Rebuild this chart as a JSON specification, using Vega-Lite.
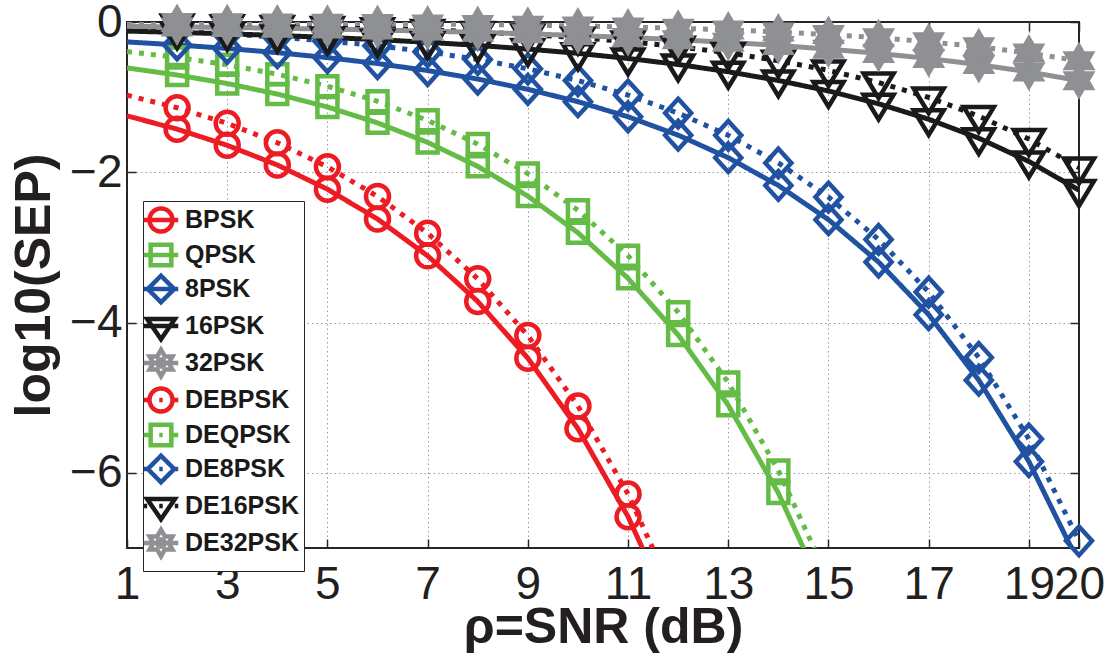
{
  "$schema": "https://vega.github.io/schema/vega-lite/v6.json",
  "autosize": "none",
  "width": 952,
  "height": 526,
  "padding": {"left": 127, "top": 22, "right": 37, "bottom": 106},
  "background": "white",
  "config": {
    "view": {"stroke": "#262626", "strokeWidth": 2},
    "font": "Liberation Sans",
    "legend": {"orient": "none", "legendX": 16, "legendY": 179, "title": null,
      "fillColor": "white", "strokeColor": "#262626", "padding": 5, "cornerRadius": 0,
      "labelFont": "Liberation Sans", "labelFontSize": 25, "labelFontWeight": "bold", "labelColor": "#1a1a1a", "labelLimit": 300,
      "symbolSize": 529, "symbolStrokeWidth": 4.5, "rowPadding": -16, "labelOffset": 10, "symbolOffset": -1, "symbolOpacity": 1, "symbolDash": [1, 0], "symbolFillColor": "transparent"}
  },
  "data": {"values": [
    {"series":"BPSK","mod":"BPSK","coding":"coherent","snr":1,"logsep":-1.249},{"series":"BPSK","mod":"BPSK","coding":"coherent","snr":2,"logsep":-1.426},{"series":"BPSK","mod":"BPSK","coding":"coherent","snr":3,"logsep":-1.641},{"series":"BPSK","mod":"BPSK","coding":"coherent","snr":4,"logsep":-1.903},{"series":"BPSK","mod":"BPSK","coding":"coherent","snr":5,"logsep":-2.225},{"series":"BPSK","mod":"BPSK","coding":"coherent","snr":6,"logsep":-2.622},{"series":"BPSK","mod":"BPSK","coding":"coherent","snr":7,"logsep":-3.112},{"series":"BPSK","mod":"BPSK","coding":"coherent","snr":8,"logsep":-3.719},{"series":"BPSK","mod":"BPSK","coding":"coherent","snr":9,"logsep":-4.474},{"series":"BPSK","mod":"BPSK","coding":"coherent","snr":10,"logsep":-5.412},{"series":"BPSK","mod":"BPSK","coding":"coherent","snr":11,"logsep":-6.583},{"series":"BPSK","mod":"BPSK","coding":"coherent","snr":12,"logsep":-8.046},
    {"series":"DEBPSK","mod":"BPSK","coding":"differential","snr":1,"logsep":-0.974},{"series":"DEBPSK","mod":"BPSK","coding":"differential","snr":2,"logsep":-1.141},{"series":"DEBPSK","mod":"BPSK","coding":"differential","snr":3,"logsep":-1.349},{"series":"DEBPSK","mod":"BPSK","coding":"differential","snr":4,"logsep":-1.607},{"series":"DEBPSK","mod":"BPSK","coding":"differential","snr":5,"logsep":-1.927},{"series":"DEBPSK","mod":"BPSK","coding":"differential","snr":6,"logsep":-2.321},{"series":"DEBPSK","mod":"BPSK","coding":"differential","snr":7,"logsep":-2.811},{"series":"DEBPSK","mod":"BPSK","coding":"differential","snr":8,"logsep":-3.418},{"series":"DEBPSK","mod":"BPSK","coding":"differential","snr":9,"logsep":-4.173},{"series":"DEBPSK","mod":"BPSK","coding":"differential","snr":10,"logsep":-5.111},{"series":"DEBPSK","mod":"BPSK","coding":"differential","snr":11,"logsep":-6.282},{"series":"DEBPSK","mod":"BPSK","coding":"differential","snr":12,"logsep":-7.745},
    {"series":"QPSK","mod":"QPSK","coding":"coherent","snr":1,"logsep":-0.611},{"series":"QPSK","mod":"QPSK","coding":"coherent","snr":2,"logsep":-0.705},{"series":"QPSK","mod":"QPSK","coding":"coherent","snr":3,"logsep":-0.819},{"series":"QPSK","mod":"QPSK","coding":"coherent","snr":4,"logsep":-0.959},{"series":"QPSK","mod":"QPSK","coding":"coherent","snr":5,"logsep":-1.131},{"series":"QPSK","mod":"QPSK","coding":"coherent","snr":6,"logsep":-1.342},{"series":"QPSK","mod":"QPSK","coding":"coherent","snr":7,"logsep":-1.602},{"series":"QPSK","mod":"QPSK","coding":"coherent","snr":8,"logsep":-1.921},{"series":"QPSK","mod":"QPSK","coding":"coherent","snr":9,"logsep":-2.317},{"series":"QPSK","mod":"QPSK","coding":"coherent","snr":10,"logsep":-2.805},{"series":"QPSK","mod":"QPSK","coding":"coherent","snr":11,"logsep":-3.411},{"series":"QPSK","mod":"QPSK","coding":"coherent","snr":12,"logsep":-4.164},{"series":"QPSK","mod":"QPSK","coding":"coherent","snr":13,"logsep":-5.1},{"series":"QPSK","mod":"QPSK","coding":"coherent","snr":14,"logsep":-6.269},{"series":"QPSK","mod":"QPSK","coding":"coherent","snr":15,"logsep":-7.73},
    {"series":"DEQPSK","mod":"QPSK","coding":"differential","snr":1,"logsep":-0.394},{"series":"DEQPSK","mod":"QPSK","coding":"differential","snr":2,"logsep":-0.471},{"series":"DEQPSK","mod":"QPSK","coding":"differential","snr":3,"logsep":-0.569},{"series":"DEQPSK","mod":"QPSK","coding":"differential","snr":4,"logsep":-0.695},{"series":"DEQPSK","mod":"QPSK","coding":"differential","snr":5,"logsep":-0.854},{"series":"DEQPSK","mod":"QPSK","coding":"differential","snr":6,"logsep":-1.056},{"series":"DEQPSK","mod":"QPSK","coding":"differential","snr":7,"logsep":-1.309},{"series":"DEQPSK","mod":"QPSK","coding":"differential","snr":8,"logsep":-1.625},{"series":"DEQPSK","mod":"QPSK","coding":"differential","snr":9,"logsep":-2.017},{"series":"DEQPSK","mod":"QPSK","coding":"differential","snr":10,"logsep":-2.505},{"series":"DEQPSK","mod":"QPSK","coding":"differential","snr":11,"logsep":-3.11},{"series":"DEQPSK","mod":"QPSK","coding":"differential","snr":12,"logsep":-3.863},{"series":"DEQPSK","mod":"QPSK","coding":"differential","snr":13,"logsep":-4.799},{"series":"DEQPSK","mod":"QPSK","coding":"differential","snr":14,"logsep":-5.968},{"series":"DEQPSK","mod":"QPSK","coding":"differential","snr":15,"logsep":-7.42},
    {"series":"8PSK","mod":"8PSK","coding":"coherent","snr":1,"logsep":-0.265},{"series":"8PSK","mod":"8PSK","coding":"coherent","snr":2,"logsep":-0.305},{"series":"8PSK","mod":"8PSK","coding":"coherent","snr":3,"logsep":-0.352},{"series":"8PSK","mod":"8PSK","coding":"coherent","snr":4,"logsep":-0.408},{"series":"8PSK","mod":"8PSK","coding":"coherent","snr":5,"logsep":-0.474},{"series":"8PSK","mod":"8PSK","coding":"coherent","snr":6,"logsep":-0.553},{"series":"8PSK","mod":"8PSK","coding":"coherent","snr":7,"logsep":-0.646},{"series":"8PSK","mod":"8PSK","coding":"coherent","snr":8,"logsep":-0.759},{"series":"8PSK","mod":"8PSK","coding":"coherent","snr":9,"logsep":-0.896},{"series":"8PSK","mod":"8PSK","coding":"coherent","snr":10,"logsep":-1.06},{"series":"8PSK","mod":"8PSK","coding":"coherent","snr":11,"logsep":-1.261},{"series":"8PSK","mod":"8PSK","coding":"coherent","snr":12,"logsep":-1.506},{"series":"8PSK","mod":"8PSK","coding":"coherent","snr":13,"logsep":-1.806},{"series":"8PSK","mod":"8PSK","coding":"coherent","snr":14,"logsep":-2.175},{"series":"8PSK","mod":"8PSK","coding":"coherent","snr":15,"logsep":-2.631},{"series":"8PSK","mod":"8PSK","coding":"coherent","snr":16,"logsep":-3.195},{"series":"8PSK","mod":"8PSK","coding":"coherent","snr":17,"logsep":-3.895},{"series":"8PSK","mod":"8PSK","coding":"coherent","snr":18,"logsep":-4.766},{"series":"8PSK","mod":"8PSK","coding":"coherent","snr":19,"logsep":-5.85},{"series":"8PSK","mod":"8PSK","coding":"coherent","snr":20,"logsep":-7.206},
    {"series":"DE8PSK","mod":"8PSK","coding":"differential","snr":1,"logsep":-0.101},{"series":"DE8PSK","mod":"8PSK","coding":"differential","snr":2,"logsep":-0.127},{"series":"DE8PSK","mod":"8PSK","coding":"differential","snr":3,"logsep":-0.16},{"series":"DE8PSK","mod":"8PSK","coding":"differential","snr":4,"logsep":-0.201},{"series":"DE8PSK","mod":"8PSK","coding":"differential","snr":5,"logsep":-0.253},{"series":"DE8PSK","mod":"8PSK","coding":"differential","snr":6,"logsep":-0.317},{"series":"DE8PSK","mod":"8PSK","coding":"differential","snr":7,"logsep":-0.397},{"series":"DE8PSK","mod":"8PSK","coding":"differential","snr":8,"logsep":-0.498},{"series":"DE8PSK","mod":"8PSK","coding":"differential","snr":9,"logsep":-0.623},{"series":"DE8PSK","mod":"8PSK","coding":"differential","snr":10,"logsep":-0.779},{"series":"DE8PSK","mod":"8PSK","coding":"differential","snr":11,"logsep":-0.972},{"series":"DE8PSK","mod":"8PSK","coding":"differential","snr":12,"logsep":-1.212},{"series":"DE8PSK","mod":"8PSK","coding":"differential","snr":13,"logsep":-1.508},{"series":"DE8PSK","mod":"8PSK","coding":"differential","snr":14,"logsep":-1.876},{"series":"DE8PSK","mod":"8PSK","coding":"differential","snr":15,"logsep":-2.33},{"series":"DE8PSK","mod":"8PSK","coding":"differential","snr":16,"logsep":-2.894},{"series":"DE8PSK","mod":"8PSK","coding":"differential","snr":17,"logsep":-3.594},{"series":"DE8PSK","mod":"8PSK","coding":"differential","snr":18,"logsep":-4.465},{"series":"DE8PSK","mod":"8PSK","coding":"differential","snr":19,"logsep":-5.549},{"series":"DE8PSK","mod":"8PSK","coding":"differential","snr":20,"logsep":-6.905},
    {"series":"16PSK","mod":"16PSK","coding":"coherent","snr":1,"logsep":-0.121},{"series":"16PSK","mod":"16PSK","coding":"coherent","snr":2,"logsep":-0.138},{"series":"16PSK","mod":"16PSK","coding":"coherent","snr":3,"logsep":-0.157},{"series":"16PSK","mod":"16PSK","coding":"coherent","snr":4,"logsep":-0.179},{"series":"16PSK","mod":"16PSK","coding":"coherent","snr":5,"logsep":-0.205},{"series":"16PSK","mod":"16PSK","coding":"coherent","snr":6,"logsep":-0.235},{"series":"16PSK","mod":"16PSK","coding":"coherent","snr":7,"logsep":-0.27},{"series":"16PSK","mod":"16PSK","coding":"coherent","snr":8,"logsep":-0.311},{"series":"16PSK","mod":"16PSK","coding":"coherent","snr":9,"logsep":-0.36},{"series":"16PSK","mod":"16PSK","coding":"coherent","snr":10,"logsep":-0.417},{"series":"16PSK","mod":"16PSK","coding":"coherent","snr":11,"logsep":-0.485},{"series":"16PSK","mod":"16PSK","coding":"coherent","snr":12,"logsep":-0.565},{"series":"16PSK","mod":"16PSK","coding":"coherent","snr":13,"logsep":-0.662},{"series":"16PSK","mod":"16PSK","coding":"coherent","snr":14,"logsep":-0.778},{"series":"16PSK","mod":"16PSK","coding":"coherent","snr":15,"logsep":-0.918},{"series":"16PSK","mod":"16PSK","coding":"coherent","snr":16,"logsep":-1.088},{"series":"16PSK","mod":"16PSK","coding":"coherent","snr":17,"logsep":-1.294},{"series":"16PSK","mod":"16PSK","coding":"coherent","snr":18,"logsep":-1.546},{"series":"16PSK","mod":"16PSK","coding":"coherent","snr":19,"logsep":-1.856},{"series":"16PSK","mod":"16PSK","coding":"coherent","snr":20,"logsep":-2.237},
    {"series":"DE16PSK","mod":"16PSK","coding":"differential","snr":1,"logsep":-0.026},{"series":"DE16PSK","mod":"16PSK","coding":"differential","snr":2,"logsep":-0.033},{"series":"DE16PSK","mod":"16PSK","coding":"differential","snr":3,"logsep":-0.042},{"series":"DE16PSK","mod":"16PSK","coding":"differential","snr":4,"logsep":-0.053},{"series":"DE16PSK","mod":"16PSK","coding":"differential","snr":5,"logsep":-0.066},{"series":"DE16PSK","mod":"16PSK","coding":"differential","snr":6,"logsep":-0.083},{"series":"DE16PSK","mod":"16PSK","coding":"differential","snr":7,"logsep":-0.105},{"series":"DE16PSK","mod":"16PSK","coding":"differential","snr":8,"logsep":-0.132},{"series":"DE16PSK","mod":"16PSK","coding":"differential","snr":9,"logsep":-0.166},{"series":"DE16PSK","mod":"16PSK","coding":"differential","snr":10,"logsep":-0.208},{"series":"DE16PSK","mod":"16PSK","coding":"differential","snr":11,"logsep":-0.261},{"series":"DE16PSK","mod":"16PSK","coding":"differential","snr":12,"logsep":-0.328},{"series":"DE16PSK","mod":"16PSK","coding":"differential","snr":13,"logsep":-0.411},{"series":"DE16PSK","mod":"16PSK","coding":"differential","snr":14,"logsep":-0.515},{"series":"DE16PSK","mod":"16PSK","coding":"differential","snr":15,"logsep":-0.644},{"series":"DE16PSK","mod":"16PSK","coding":"differential","snr":16,"logsep":-0.805},{"series":"DE16PSK","mod":"16PSK","coding":"differential","snr":17,"logsep":-1.004},{"series":"DE16PSK","mod":"16PSK","coding":"differential","snr":18,"logsep":-1.252},{"series":"DE16PSK","mod":"16PSK","coding":"differential","snr":19,"logsep":-1.558},{"series":"DE16PSK","mod":"16PSK","coding":"differential","snr":20,"logsep":-1.937},
    {"series":"32PSK","mod":"32PSK","coding":"coherent","snr":1,"logsep":-0.057},{"series":"32PSK","mod":"32PSK","coding":"coherent","snr":2,"logsep":-0.065},{"series":"32PSK","mod":"32PSK","coding":"coherent","snr":3,"logsep":-0.073},{"series":"32PSK","mod":"32PSK","coding":"coherent","snr":4,"logsep":-0.083},{"series":"32PSK","mod":"32PSK","coding":"coherent","snr":5,"logsep":-0.094},{"series":"32PSK","mod":"32PSK","coding":"coherent","snr":6,"logsep":-0.107},{"series":"32PSK","mod":"32PSK","coding":"coherent","snr":7,"logsep":-0.121},{"series":"32PSK","mod":"32PSK","coding":"coherent","snr":8,"logsep":-0.138},{"series":"32PSK","mod":"32PSK","coding":"coherent","snr":9,"logsep":-0.157},{"series":"32PSK","mod":"32PSK","coding":"coherent","snr":10,"logsep":-0.18},{"series":"32PSK","mod":"32PSK","coding":"coherent","snr":11,"logsep":-0.206},{"series":"32PSK","mod":"32PSK","coding":"coherent","snr":12,"logsep":-0.236},{"series":"32PSK","mod":"32PSK","coding":"coherent","snr":13,"logsep":-0.271},{"series":"32PSK","mod":"32PSK","coding":"coherent","snr":14,"logsep":-0.312},{"series":"32PSK","mod":"32PSK","coding":"coherent","snr":15,"logsep":-0.361},{"series":"32PSK","mod":"32PSK","coding":"coherent","snr":16,"logsep":-0.418},{"series":"32PSK","mod":"32PSK","coding":"coherent","snr":17,"logsep":-0.486},{"series":"32PSK","mod":"32PSK","coding":"coherent","snr":18,"logsep":-0.567},{"series":"32PSK","mod":"32PSK","coding":"coherent","snr":19,"logsep":-0.664},{"series":"32PSK","mod":"32PSK","coding":"coherent","snr":20,"logsep":-0.781},
    {"series":"DE32PSK","mod":"32PSK","coding":"differential","snr":1,"logsep":-0.007},{"series":"DE32PSK","mod":"32PSK","coding":"differential","snr":2,"logsep":-0.008},{"series":"DE32PSK","mod":"32PSK","coding":"differential","snr":3,"logsep":-0.011},{"series":"DE32PSK","mod":"32PSK","coding":"differential","snr":4,"logsep":-0.013},{"series":"DE32PSK","mod":"32PSK","coding":"differential","snr":5,"logsep":-0.017},{"series":"DE32PSK","mod":"32PSK","coding":"differential","snr":6,"logsep":-0.021},{"series":"DE32PSK","mod":"32PSK","coding":"differential","snr":7,"logsep":-0.027},{"series":"DE32PSK","mod":"32PSK","coding":"differential","snr":8,"logsep":-0.034},{"series":"DE32PSK","mod":"32PSK","coding":"differential","snr":9,"logsep":-0.042},{"series":"DE32PSK","mod":"32PSK","coding":"differential","snr":10,"logsep":-0.053},{"series":"DE32PSK","mod":"32PSK","coding":"differential","snr":11,"logsep":-0.067},{"series":"DE32PSK","mod":"32PSK","coding":"differential","snr":12,"logsep":-0.084},{"series":"DE32PSK","mod":"32PSK","coding":"differential","snr":13,"logsep":-0.105},{"series":"DE32PSK","mod":"32PSK","coding":"differential","snr":14,"logsep":-0.133},{"series":"DE32PSK","mod":"32PSK","coding":"differential","snr":15,"logsep":-0.167},{"series":"DE32PSK","mod":"32PSK","coding":"differential","snr":16,"logsep":-0.209},{"series":"DE32PSK","mod":"32PSK","coding":"differential","snr":17,"logsep":-0.263},{"series":"DE32PSK","mod":"32PSK","coding":"differential","snr":18,"logsep":-0.33},{"series":"DE32PSK","mod":"32PSK","coding":"differential","snr":19,"logsep":-0.413},{"series":"DE32PSK","mod":"32PSK","coding":"differential","snr":20,"logsep":-0.517}
  ]},
  "encoding": {
    "x": {"field": "snr", "type": "quantitative", "scale": {"domain": [1, 20], "nice": false, "zero": false}, "axis": null},
    "y": {"field": "logsep", "type": "quantitative", "scale": {"domain": [-7, 0], "nice": false, "zero": false}, "axis": null},
    "color": {"field": "series", "type": "nominal",
      "scale": {"domain": ["BPSK","QPSK","8PSK","16PSK","32PSK","DEBPSK","DEQPSK","DE8PSK","DE16PSK","DE32PSK"],
                "range": ["#ed1c24","#64bc46","#2152a2","#1a1a1a","#8f9093","#ed1c24","#64bc46","#2152a2","#1a1a1a","#8f9093"]}}
  },
  "layer": [
    {
      "mark": {"type": "line", "strokeWidth": 5, "clip": true, "strokeCap": "butt"},
      "encoding": {
        "x": {"field": "snr", "type": "quantitative", "scale": {"domain": [1, 20], "nice": false, "zero": false},
          "axis": {"orient": "bottom", "values": [1,3,5,7,9,11,13,15,17,19,20], "format": "d", "domain": false,
            "grid": true, "gridColor": "#9a9a9a", "gridDash": [1.5, 3], "gridWidth": 1,
            "gridOpacity": {"condition": {"test": "datum.value == 1 || datum.value == 20", "value": 0}, "value": 1},
            "ticks": true, "tickSize": -9, "tickColor": "#262626", "tickWidth": 1.5,
            "labelFont": "Liberation Sans", "labelFontSize": 46, "labelColor": "#231f20", "labelPadding": 23,
            "labelOverlap": false, "labelFlush": false, "labelBound": false,
            "title": "ρ=SNR (dB)", "titleFont": "Liberation Sans", "titleFontSize": 50, "titleFontWeight": "bold",
            "titleColor": "#231f20", "titleX": 476, "titleY": 94, "titleBaseline": "alphabetic", "titleAlign": "center"}},
        "y": {"field": "logsep", "type": "quantitative", "scale": {"domain": [-7, 0], "nice": false, "zero": false},
          "axis": {"orient": "left", "values": [-6, -4, -2, 0], "format": "d", "domain": false,
            "grid": true, "gridColor": "#9a9a9a", "gridDash": [1.5, 3], "gridWidth": 1,
            "gridOpacity": {"condition": {"test": "datum.value == 0", "value": 0}, "value": 1},
            "ticks": true, "tickSize": -9, "tickColor": "#262626", "tickWidth": 1.5,
            "labelFont": "Liberation Sans", "labelFontSize": 46, "labelColor": "#231f20", "labelPadding": 14,
            "labelOverlap": false, "labelFlush": false, "labelBound": false,
            "title": "log10(SEP)", "titleFont": "Liberation Sans", "titleFontSize": 50, "titleFontWeight": "bold",
            "titleColor": "#231f20", "titleAngle": -90, "titleX": -78, "titleY": 263, "titleBaseline": "alphabetic", "titleAlign": "center"}},
        "strokeDash": {"field": "coding", "type": "nominal", "legend": null,
          "scale": {"domain": ["coherent", "differential"], "range": [[1, 0], [5, 7]]}}
      }
    },
    {
      "transform": [{"filter": "datum.mod == 'BPSK' && datum.snr >= 2 && datum.logsep >= -7"}],
      "mark": {"type": "point", "shape": "M1,0A1,1,0,1,1,-1,0A1,1,0,1,1,1,0Z", "size": 529, "filled": false, "strokeWidth": 4.5, "opacity": 1},
      "encoding": {
        "x": {"field": "snr", "type": "quantitative", "scale": {"domain": [1, 20], "nice": false, "zero": false},
          "axis": {"orient": "top", "values": [1,3,5,7,9,11,13,15,17,19,20], "labels": false, "domain": false, "grid": false,
            "ticks": true, "tickSize": -9, "tickColor": "#262626", "tickWidth": 1.5, "title": null}},
        "y": {"field": "logsep", "type": "quantitative", "scale": {"domain": [-7, 0], "nice": false, "zero": false},
          "axis": {"orient": "right", "values": [-6, -4, -2, 0], "labels": false, "domain": false, "grid": false,
            "ticks": true, "tickSize": -9, "tickColor": "#262626", "tickWidth": 1.5, "title": null}}
      }
    },
    {
      "transform": [{"filter": "datum.mod == 'QPSK' && datum.snr >= 2 && datum.logsep >= -7"}],
      "mark": {"type": "point", "shape": "M-1,-1H1V1H-1Z", "size": 400, "filled": false, "strokeWidth": 4.5, "opacity": 1}
    },
    {
      "transform": [{"filter": "datum.mod == '8PSK' && datum.snr >= 2 && datum.logsep >= -7"}],
      "mark": {"type": "point", "shape": "M0,-1.1L1,0L0,1.1L-1,0Z", "size": 676, "filled": false, "strokeWidth": 4.5, "opacity": 1}
    },
    {
      "transform": [{"filter": "datum.mod == '16PSK' && datum.snr >= 2 && datum.logsep >= -7"}],
      "mark": {"type": "point", "shape": "M-1,-0.6L1,-0.6L0,1.05Z", "size": 900, "filled": false, "strokeWidth": 4.5, "opacity": 1}
    },
    {
      "transform": [{"filter": "datum.mod == '32PSK' && datum.snr >= 2 && datum.logsep >= -7"}],
      "mark": {"type": "point", "shape": "M0,-1L0.289,-0.5L0.866,-0.5L0.577,0L0.866,0.5L0.289,0.5L0,1L-0.289,0.5L-0.866,0.5L-0.577,0L-0.866,-0.5L-0.289,-0.5Z", "size": 1024, "filled": false, "fill": "#8f9093", "strokeWidth": 3, "opacity": 1}
    },
    {
      "transform": [{"filter": "datum.snr == 1"}],
      "mark": {"type": "point", "filled": false, "size": 529, "strokeWidth": 4.5, "opacity": 0},
      "encoding": {
        "shape": {"field": "series", "type": "nominal",
          "scale": {"domain": ["BPSK","QPSK","8PSK","16PSK","32PSK","DEBPSK","DEQPSK","DE8PSK","DE16PSK","DE32PSK"],
            "range": [
              "M1,0A1,1,0,1,1,-1,0A1,1,0,1,1,1,0ZM-1.5,0H1.5",
              "M-0.9,-0.9H0.9V0.9H-0.9ZM-1.5,0H1.5",
              "M0,-1.15L1.15,0L0,1.15L-1.15,0ZM-1.5,0H1.5",
              "M-1.2,-0.6L1.2,-0.6L0,1.15ZM-1.5,0H1.5",
              "M0,-1.15L0.332,-0.575L0.996,-0.575L0.664,0L0.996,0.575L0.332,0.575L0,1.15L-0.332,0.575L-0.996,0.575L-0.664,0L-0.996,-0.575L-0.332,-0.575ZM0,-0.5L0,0.5M-0.45,-0.25L0.45,0.25M-0.45,0.25L0.45,-0.25M-1.5,0H1.5",
              "M1,0A1,1,0,1,1,-1,0A1,1,0,1,1,1,0ZM-1.5,0H-1.05M1.05,0H1.5M-0.15,0H0.15",
              "M-0.9,-0.9H0.9V0.9H-0.9ZM-1.5,0H-0.95M0.95,0H1.5M-0.15,0H0.15",
              "M0,-1.15L1.15,0L0,1.15L-1.15,0ZM-1.5,0H-1.2M1.2,0H1.5M-0.15,0H0.15",
              "M-1.2,-0.6L1.2,-0.6L0,1.15ZM-1.5,0H-1.2M1.2,0H1.5M-0.15,0H0.15",
              "M0,-1.15L0.332,-0.575L0.996,-0.575L0.664,0L0.996,0.575L0.332,0.575L0,1.15L-0.332,0.575L-0.996,0.575L-0.664,0L-0.996,-0.575L-0.332,-0.575ZM0,-0.5L0,0.5M-0.45,-0.25L0.45,0.25M-0.45,0.25L0.45,-0.25M-1.5,0H1.5"
            ]}}
      }
    }
  ],
  "resolve": {"axis": {"x": "independent", "y": "independent"}}
}
